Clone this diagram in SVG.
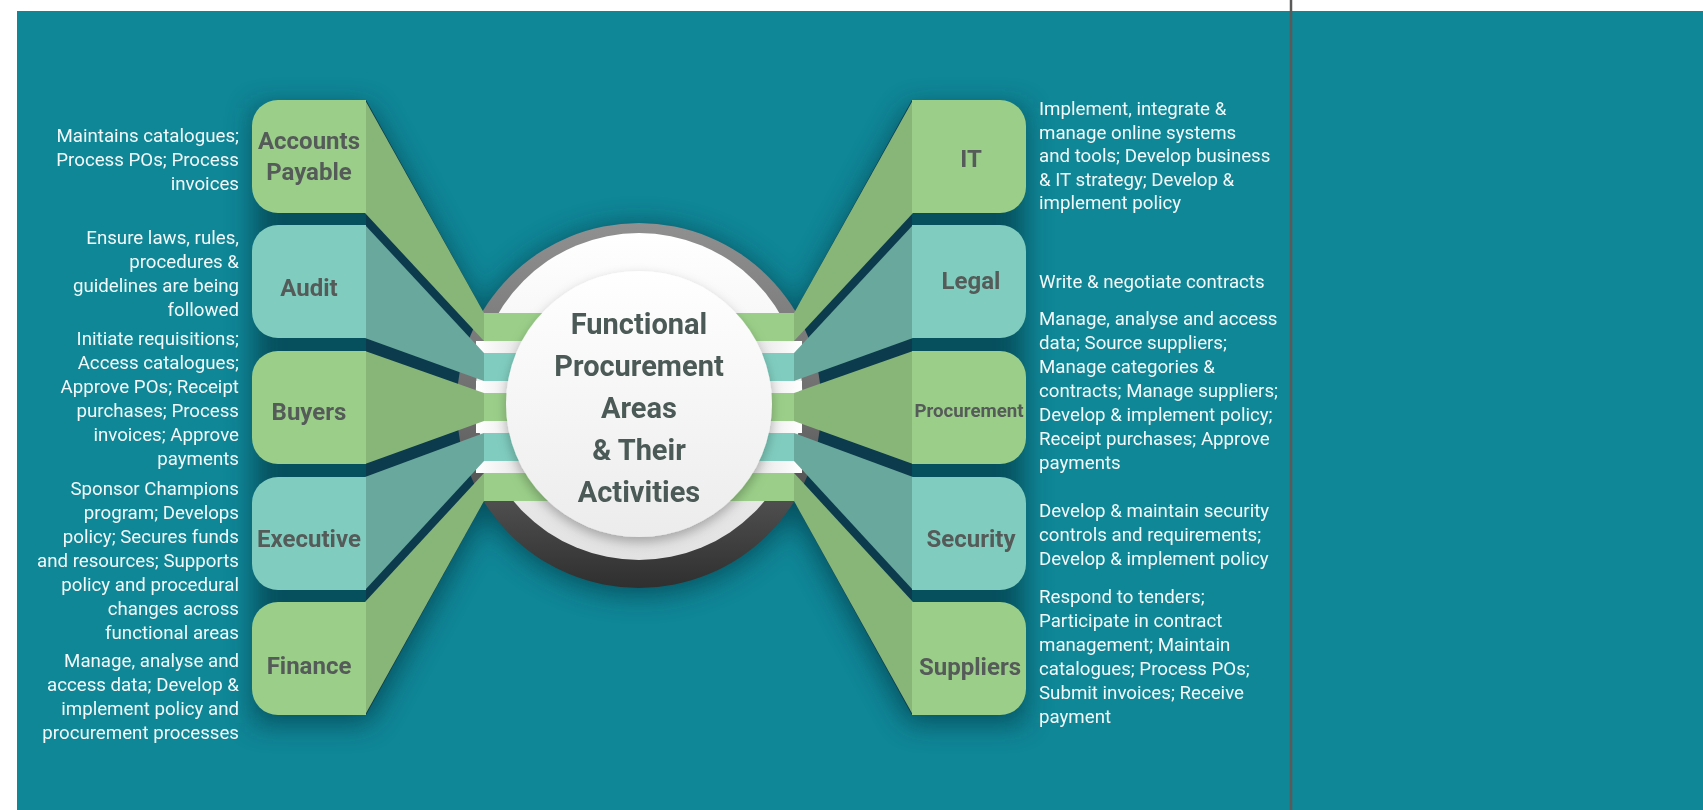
<svg xmlns="http://www.w3.org/2000/svg" width="1703" height="810" viewBox="0 0 1703 810">
<defs>
<style>
.desc{font-family:Roboto,'Liberation Sans',sans-serif;font-size:18.7px;fill:#f3f8f8}
.dl{text-anchor:end}
.lbl{font-family:Roboto,'Liberation Sans',sans-serif;font-size:24px;font-weight:700;fill:#555b58;text-anchor:middle}
.title{font-family:Roboto,'Liberation Sans',sans-serif;font-size:29px;font-weight:700;fill:#4b5a56;text-anchor:middle}
.gbox{fill:#9bcf89}
.gfan{fill:#88b679}
.tbox{fill:#80cdbf}
.tfan{fill:#69a89c}
.wst{fill:url(#wstripe)}
</style>
<filter id="blur" x="-30%" y="-30%" width="160%" height="160%"><feGaussianBlur stdDeviation="14"/></filter>
<filter id="ds" x="-20%" y="-20%" width="140%" height="140%"><feDropShadow dx="0" dy="5" stdDeviation="6" flood-color="#000" flood-opacity="0.28"/></filter>
<linearGradient id="ring" x1="0" y1="0" x2="0" y2="1"><stop offset="0" stop-color="#909090"/><stop offset="0.55" stop-color="#6a6a6a"/><stop offset="1" stop-color="#2f2f2f"/></linearGradient>
<linearGradient id="wring" x1="0" y1="0" x2="0" y2="1"><stop offset="0" stop-color="#ffffff"/><stop offset="1" stop-color="#e2e2e2"/></linearGradient>
<linearGradient id="disc" x1="0" y1="0" x2="0" y2="1"><stop offset="0" stop-color="#ffffff"/><stop offset="1" stop-color="#ececec"/></linearGradient>
<linearGradient id="wstripe" x1="0" y1="0" x2="1" y2="0"><stop offset="0" stop-color="#ffffff"/><stop offset="0.15" stop-color="#e6e6e6"/><stop offset="0.85" stop-color="#e6e6e6"/><stop offset="1" stop-color="#ffffff"/></linearGradient>
</defs>

<g id="background">
<rect x="0" y="0" width="1703" height="810" fill="#ffffff"/>
<rect x="17" y="11" width="1686" height="799" fill="#0f8797"/>
</g>

<g id="shadows" fill="#042a38" opacity="0.6" filter="url(#blur)">
<path d="M252,100 H366 L484,313 V501 L366,715 H252 Z" transform="translate(2,8)"/>
<path d="M1026,100 H912 L794,313 V501 L912,715 H1026 Z" transform="translate(-2,8)"/>
<circle cx="639" cy="410" r="184"/>
</g>

<g id="gap-fill" fill="#0b3b4c">
<path d="M366,100 L484,313 V501 L366,715 Z"/>
<path d="M912,100 L794,313 V501 L912,715 Z"/>
</g>

<g id="node-center-ring">
<circle cx="639" cy="405.5" r="182.5" fill="url(#ring)"/>
<circle cx="639" cy="396.5" r="163.5" fill="url(#wring)"/>
<rect class="wst" x="476" y="341" width="326" height="12"/>
<rect class="wst" x="476" y="381" width="326" height="12"/>
<rect class="wst" x="476" y="421" width="326" height="12"/>
<rect class="wst" x="476" y="461" width="326" height="12"/>
</g>

<g id="connectors">
<polygon class="gfan" points="365,100 484,313 484,341 365,213"/>
<polygon class="tfan" points="365,225 484,353 484,381 365,338"/>
<polygon class="gfan" points="365,351 484,393 484,421 365,464"/>
<polygon class="tfan" points="365,477 484,433 484,461 365,590"/>
<polygon class="gfan" points="365,602 484,473 484,501 365,715"/>
<polygon class="gfan" points="913,100 794,313 794,341 913,213"/>
<polygon class="tfan" points="913,225 794,353 794,381 913,338"/>
<polygon class="gfan" points="913,351 794,393 794,421 913,464"/>
<polygon class="tfan" points="913,477 794,433 794,461 913,590"/>
<polygon class="gfan" points="913,602 794,473 794,501 913,715"/>
<rect class="gbox" x="484" y="313" width="310" height="28"/>
<rect class="tbox" x="484" y="353" width="310" height="28"/>
<rect class="gbox" x="484" y="393" width="310" height="28"/>
<rect class="tbox" x="484" y="433" width="310" height="28"/>
<rect class="gbox" x="484" y="473" width="310" height="28"/>
</g>

<g id="node-center">
<circle cx="639" cy="404" r="133" fill="url(#disc)" filter="url(#ds)"/>
<text class="title" x="639" y="334">Functional</text>
<text class="title" x="639" y="376">Procurement</text>
<text class="title" x="639" y="418">Areas</text>
<text class="title" x="639" y="460">&amp; Their</text>
<text class="title" x="639" y="502">Activities</text>
</g>

<g id="node-accounts-payable">
<path class="gbox" d="M366,100 H278 A26,26 0 0 0 252,126 V187 A26,26 0 0 0 278,213 H366 Z"/>
<text class="lbl" x="309" y="149">Accounts</text>
<text class="lbl" x="309" y="180">Payable</text>
<text class="desc dl"><tspan x="239" y="142">Maintains catalogues;</tspan><tspan x="239" y="166">Process POs; Process</tspan><tspan x="239" y="190">invoices</tspan></text>
</g>

<g id="node-audit">
<path class="tbox" d="M366,225 H278 A26,26 0 0 0 252,251 V312 A26,26 0 0 0 278,338 H366 Z"/>
<text class="lbl" x="309" y="296">Audit</text>
<text class="desc dl"><tspan x="239" y="244">Ensure laws, rules,</tspan><tspan x="239" y="268">procedures &amp;</tspan><tspan x="239" y="292">guidelines are being</tspan><tspan x="239" y="316">followed</tspan></text>
</g>

<g id="node-buyers">
<path class="gbox" d="M366,351 H278 A26,26 0 0 0 252,377 V438 A26,26 0 0 0 278,464 H366 Z"/>
<text class="lbl" x="309" y="420">Buyers</text>
<text class="desc dl"><tspan x="239" y="345">Initiate requisitions;</tspan><tspan x="239" y="369">Access catalogues;</tspan><tspan x="239" y="393">Approve POs; Receipt</tspan><tspan x="239" y="417">purchases; Process</tspan><tspan x="239" y="441">invoices; Approve</tspan><tspan x="239" y="465">payments</tspan></text>
</g>

<g id="node-executive">
<path class="tbox" d="M366,477 H278 A26,26 0 0 0 252,503 V564 A26,26 0 0 0 278,590 H366 Z"/>
<text class="lbl" x="309" y="547">Executive</text>
<text class="desc dl"><tspan x="239" y="495">Sponsor Champions</tspan><tspan x="239" y="519">program; Develops</tspan><tspan x="239" y="543">policy; Secures funds</tspan><tspan x="239" y="567">and resources; Supports</tspan><tspan x="239" y="591">policy and procedural</tspan><tspan x="239" y="615">changes across</tspan><tspan x="239" y="639">functional areas</tspan></text>
</g>

<g id="node-finance">
<path class="gbox" d="M366,602 H278 A26,26 0 0 0 252,628 V689 A26,26 0 0 0 278,715 H366 Z"/>
<text class="lbl" x="309" y="674">Finance</text>
<text class="desc dl"><tspan x="239" y="667">Manage, analyse and</tspan><tspan x="239" y="691">access data; Develop &amp;</tspan><tspan x="239" y="715">implement policy and</tspan><tspan x="239" y="739">procurement processes</tspan></text>
</g>

<g id="node-it">
<path class="gbox" d="M912,100 H1000 A26,26 0 0 1 1026,126 V187 A26,26 0 0 1 1000,213 H912 Z"/>
<text class="lbl" x="971" y="167">IT</text>
<text class="desc"><tspan x="1039" y="115">Implement, integrate &amp;</tspan><tspan x="1039" y="139">manage online systems</tspan><tspan x="1039" y="162">and tools; Develop business</tspan><tspan x="1039" y="186">&amp; IT strategy; Develop &amp;</tspan><tspan x="1039" y="209">implement policy</tspan></text>
</g>

<g id="node-legal">
<path class="tbox" d="M912,225 H1000 A26,26 0 0 1 1026,251 V312 A26,26 0 0 1 1000,338 H912 Z"/>
<text class="lbl" x="971" y="289">Legal</text>
<text class="desc"><tspan x="1039" y="288">Write &amp; negotiate contracts</tspan></text>
</g>

<g id="node-procurement">
<path class="gbox" d="M912,351 H1000 A26,26 0 0 1 1026,377 V438 A26,26 0 0 1 1000,464 H912 Z"/>
<text class="lbl" x="969" y="417" style="font-size:18.7px">Procurement</text>
<text class="desc"><tspan x="1039" y="325">Manage, analyse and access</tspan><tspan x="1039" y="349">data; Source suppliers;</tspan><tspan x="1039" y="373">Manage categories &amp;</tspan><tspan x="1039" y="397">contracts; Manage suppliers;</tspan><tspan x="1039" y="421">Develop &amp; implement policy;</tspan><tspan x="1039" y="445">Receipt purchases; Approve</tspan><tspan x="1039" y="469">payments</tspan></text>
</g>

<g id="node-security">
<path class="tbox" d="M912,477 H1000 A26,26 0 0 1 1026,503 V564 A26,26 0 0 1 1000,590 H912 Z"/>
<text class="lbl" x="971" y="547">Security</text>
<text class="desc"><tspan x="1039" y="517">Develop &amp; maintain security</tspan><tspan x="1039" y="541">controls and requirements;</tspan><tspan x="1039" y="565">Develop &amp; implement policy</tspan></text>
</g>

<g id="node-suppliers">
<path class="gbox" d="M912,602 H1000 A26,26 0 0 1 1026,628 V689 A26,26 0 0 1 1000,715 H912 Z"/>
<text class="lbl" x="970" y="675">Suppliers</text>
<text class="desc"><tspan x="1039" y="603">Respond to tenders;</tspan><tspan x="1039" y="627">Participate in contract</tspan><tspan x="1039" y="651">management; Maintain</tspan><tspan x="1039" y="675">catalogues; Process POs;</tspan><tspan x="1039" y="699">Submit invoices; Receive</tspan><tspan x="1039" y="723">payment</tspan></text>
</g>

<line id="divider" x1="1291" y1="0" x2="1291" y2="810" stroke="#5a5a5a" stroke-width="2.5"/>
</svg>
